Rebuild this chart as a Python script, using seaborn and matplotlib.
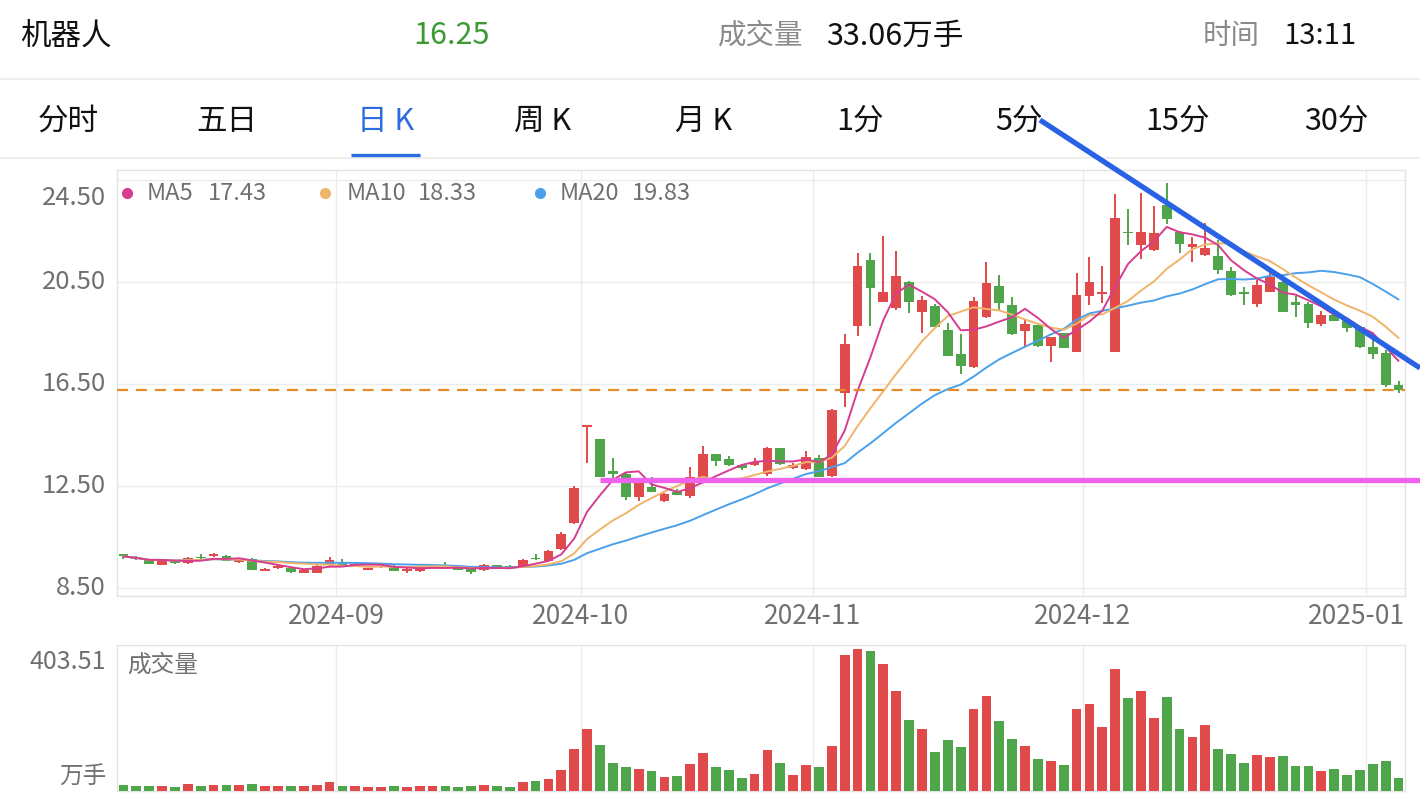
import numpy as np
import pandas as pd
import matplotlib
matplotlib.use("Agg")
import matplotlib.pyplot as plt
import seaborn as sns
from matplotlib.lines import Line2D

# ---------------- data ----------------
opens = [9.82, 9.72, 9.59, 9.41, 9.56, 9.47, 9.72, 9.75, 9.74, 9.51,
         9.64, 9.18, 9.27, 9.30, 9.10, 9.10, 9.40, 9.53, 9.39, 9.22,
         9.32, 9.36, 9.15, 9.18, 9.30, 9.39, 9.28, 9.26, 9.21, 9.39,
         9.35, 9.37, 9.69, 9.57, 10.02, 11.06, 14.83, 14.34, 13.10, 12.96,
         12.08, 12.45, 11.91, 12.28, 12.10, 12.83, 13.74, 13.56, 13.32, 13.32,
         12.98, 13.98, 13.22, 13.17, 13.61, 12.89, 16.14, 18.77, 21.36, 19.73,
         19.47, 20.51, 19.34, 19.57, 18.62, 17.68, 17.15, 19.14, 20.34, 19.60,
         18.58, 18.81, 17.99, 18.49, 17.77, 19.95, 20.03, 17.77, 22.48, 21.95,
         21.75, 23.52, 22.47, 21.86, 21.56, 21.52, 20.94, 20.12, 19.64, 20.12,
         20.51, 19.73, 19.64, 18.85, 19.21, 18.98, 18.75, 17.96, 17.73, 16.46]
highs = [9.84, 9.74, 9.64, 9.60, 9.58, 9.70, 9.82, 9.86, 9.78, 9.63,
         9.66, 9.29, 9.42, 9.32, 9.24, 9.39, 9.70, 9.62, 9.50, 9.30,
         9.40, 9.39, 9.27, 9.33, 9.36, 9.52, 9.30, 9.28, 9.43, 9.42,
         9.40, 9.62, 9.83, 9.98, 10.71, 12.50, 14.85, 14.36, 13.59, 13.06,
         12.70, 12.84, 12.21, 12.40, 13.23, 14.08, 13.76, 13.68, 13.34, 13.61,
         14.03, 14.00, 13.42, 13.87, 13.72, 15.50, 18.45, 21.65, 21.65, 22.30,
         21.73, 20.55, 19.95, 19.64, 18.90, 18.45, 19.92, 21.30, 20.77, 19.92,
         19.00, 18.83, 18.35, 18.51, 20.86, 21.49, 21.13, 23.95, 23.35, 23.98,
         23.48, 24.37, 22.49, 22.28, 22.83, 22.15, 21.08, 20.32, 20.58, 20.86,
         20.66, 19.95, 19.72, 19.37, 19.25, 19.00, 18.77, 18.29, 17.83, 16.63]
lows = [9.64, 9.60, 9.43, 9.39, 9.45, 9.45, 9.65, 9.73, 9.55, 9.49,
        9.20, 9.16, 9.24, 9.10, 9.08, 9.08, 9.38, 9.36, 9.36, 9.20,
        9.30, 9.15, 9.10, 9.14, 9.28, 9.33, 9.20, 9.06, 9.15, 9.30,
        9.29, 9.35, 9.60, 9.55, 10.00, 11.00, 13.41, 12.84, 12.80, 11.95,
        11.91, 12.26, 11.88, 12.13, 12.02, 12.74, 13.30, 13.30, 13.13, 13.28,
        12.90, 13.33, 13.15, 13.12, 12.84, 12.85, 15.59, 18.38, 18.77, 19.70,
        19.40, 19.30, 18.51, 18.73, 17.58, 16.89, 17.13, 19.08, 19.40, 18.44,
        17.99, 17.97, 17.38, 17.90, 17.75, 19.60, 19.69, 17.75, 21.95, 21.39,
        21.72, 22.77, 21.63, 21.30, 21.52, 20.81, 19.97, 19.60, 19.53, 20.10,
        19.32, 19.14, 18.68, 18.77, 18.96, 18.55, 17.92, 17.47, 16.39, 16.16]
closes = [9.74, 9.62, 9.45, 9.59, 9.48, 9.66, 9.67, 9.82, 9.57, 9.61,
          9.22, 9.26, 9.37, 9.12, 9.22, 9.37, 9.59, 9.40, 9.45, 9.27,
          9.36, 9.17, 9.26, 9.31, 9.34, 9.35, 9.21, 9.13, 9.41, 9.32,
          9.31, 9.60, 9.62, 9.96, 10.61, 12.41, 14.85, 12.86, 12.97, 12.08,
          12.62, 12.28, 12.19, 12.15, 12.86, 13.74, 13.49, 13.32, 13.22, 13.45,
          13.98, 13.35, 13.32, 13.64, 12.86, 15.48, 18.07, 21.13, 20.25, 20.12,
          20.75, 19.70, 19.79, 18.75, 17.60, 17.21, 19.77, 20.47, 19.69, 18.46,
          18.85, 17.99, 18.33, 17.92, 19.99, 20.51, 20.12, 23.02, 22.41, 22.48,
          22.43, 22.96, 21.98, 21.99, 21.82, 20.97, 19.99, 20.03, 20.38, 20.68,
          19.34, 19.60, 18.90, 19.21, 18.98, 18.68, 17.94, 17.68, 16.46, 16.25]
volumes = [18, 15, 15, 13, 12, 20, 15, 18, 18, 18,
           21, 14, 15, 14, 13, 18, 25, 15, 14, 12,
           11, 13, 12, 15, 13, 13, 11, 13, 17, 13,
           12, 26, 29, 34, 60, 120, 176, 132, 81, 67,
           63, 58, 40, 43, 76, 107, 68, 59, 38, 49,
           116, 79, 46, 74, 69, 127, 387, 403.51, 400, 362,
           285, 202, 178, 111, 146, 125, 233, 270, 200, 147,
           127, 92, 86, 74, 235, 247, 182, 348, 266, 286,
           207, 269, 178, 154, 187, 121, 105, 80, 102, 97,
           99, 71, 70, 56, 63, 47, 60, 77, 85, 37]
month_labels = ["2024-09", "2024-10", "2024-11", "2024-12", "2025-01"]
month_start_index = [17, 36, 54, 75, 97]
price_ticks = [8.50, 12.50, 16.50, 20.50, 24.50]
last_price = 16.25
ma_names = ["MA5", "MA10", "MA20"]
ma_last_values = ["17.43", "18.33", "19.83"]
header_name = "机器人"
header_price = "16.25"
header_vol = "33.06万手"
header_time = "13:11"
tabs = ["分时", "五日", "日 K", "周 K", "月 K", "1分", "5分", "15分", "30分"]
vol_max_label = "403.51"

# ---------------- style ----------------
sns.set_theme(style="white")
plt.rcParams["font.family"] = ["Noto Sans CJK SC", "DejaVu Sans"]

RED = "#e14a4a"
GREEN = "#4fa64a"
C_MA5 = "#d63c8f"
C_MA10 = "#f0b46a"
C_MA20 = "#4aa0ea"
GRID = "#ececec"
GRAY = "#707070"
BLUE_TAB = "#2b6de0"

W, H = 1420, 806
fig = plt.figure(figsize=(W / 100, H / 100), dpi=100)
fig.patch.set_facecolor("white")


def fx(x):
    return x / W


def fy(y):
    return 1 - y / H


L, R = 117, 1405
ax = fig.add_axes([fx(L), fy(596), (R - L) / W, (596 - 170) / H])
axv = fig.add_axes([fx(L), fy(791), (R - L) / W, (791 - 645) / H])

o = np.array(opens)
h = np.array(highs)
lo = np.array(lows)
c = np.array(closes)
n = len(c)
idx = np.arange(n)
up = c >= o
cols = np.where(up, RED, GREEN)

# grid lines
for a in (ax, axv):
    for m in month_start_index:
        a.axvline(m - 0.5, color=GRID, lw=1, zorder=0)
for p in price_ticks:
    ax.axhline(p, color=GRID, lw=1, zorder=0)

# candles
ax.vlines(idx, lo, h, colors=cols, lw=1.4, zorder=2)
body_bottom = np.minimum(o, c)
body_h = np.maximum(np.abs(c - o), 0.06)
ax.bar(idx, body_h, bottom=body_bottom, width=0.76, color=cols, linewidth=0, zorder=3)

# moving averages
cs = pd.Series(c)
ma5 = cs.rolling(5, min_periods=1).mean()
ma10 = cs.rolling(10, min_periods=1).mean()
ma20 = cs.rolling(20, min_periods=1).mean()
sns.lineplot(x=idx, y=ma20.values, color=C_MA20, lw=1.4, ax=ax, zorder=4)
sns.lineplot(x=idx, y=ma10.values, color=C_MA10, lw=1.4, ax=ax, zorder=4)
sns.lineplot(x=idx, y=ma5.values, color=C_MA5, lw=1.4, ax=ax, zorder=5)

# last price dashed line
ax.axhline(last_price, color="#e58c2a", lw=1.6, dashes=(5, 3.5), zorder=6)

ax.set_xlim(-0.5, n - 0.5)
ax.set_ylim(8.5 - 8 / 25.5, 24.5 + 10 / 25.5)
ax.set_xticks([])
ax.set_yticks([])
ax.set_xlabel("")
ax.set_ylabel("")

# volume
dfv = pd.DataFrame({"i": idx, "v": volumes, "d": np.where(up, "up", "down")})
sns.barplot(data=dfv, x="i", y="v", hue="d", palette={"up": RED, "down": GREEN},
            dodge=False, native_scale=True, width=0.76, legend=False, ax=axv,
            linewidth=0, saturation=1, errorbar=None, zorder=3)
axv.set_xlim(-0.5, n - 0.5)
axv.set_ylim(0, 416)
axv.set_xticks([])
axv.set_yticks([])
axv.set_xlabel("")
axv.set_ylabel("")

for a in (ax, axv):
    for s in a.spines.values():
        s.set_color("#e4e4e4")
        s.set_linewidth(1)

# y tick labels
ytr = ax.get_yaxis_transform()
offx = -(L - 106) / (R - L)
for p in price_ticks:
    va = "top" if p == max(price_ticks) else "center"
    yy = p - 0.2 if p == max(price_ticks) else p
    ax.text(offx, yy, f"{p:.2f}", transform=ytr, ha="right", va=va,
            fontsize=18.5, color=GRAY)

# x tick labels
xtr = ax.get_xaxis_transform()
for lab, m in zip(month_labels, month_start_index):
    if m == month_start_index[-1]:
        ax.text(n - 0.5, -21 / 426, lab, transform=xtr, ha="right", va="center",
                fontsize=19, color=GRAY)
    else:
        ax.text(m - 0.5, -21 / 426, lab, transform=xtr, ha="center", va="center",
                fontsize=19, color=GRAY)

# MA legend
for (xd, xt, xv), col, nm, val in zip([(127, 147, 208), (325, 347, 418), (540, 560, 632)],
                                      [C_MA5, C_MA10, C_MA20], ma_names, ma_last_values):
    fig.add_artist(Line2D([fx(xd)], [fy(193)], marker="o", ms=7, color=col,
                          lw=0, transform=fig.transFigure))
    fig.text(fx(xt), fy(193), nm, ha="left", va="center", fontsize=17, color=GRAY)
    fig.text(fx(xv), fy(193), val, ha="left", va="center", fontsize=17, color=GRAY)

# volume labels
fig.text(fx(106), fy(662), vol_max_label, ha="right", va="center", fontsize=18, color=GRAY)
fig.text(fx(106), fy(777), "万手", ha="right", va="center", fontsize=17, color=GRAY)
fig.text(fx(127), fy(665), "成交量", ha="left", va="center", fontsize=17, color=GRAY)

# header
fig.text(fx(20), fy(36), header_name, ha="left", va="center", fontsize=22, color="#111111")
fig.text(fx(452), fy(36), header_price, ha="center", va="center", fontsize=22, color="#3c9a32")
fig.text(fx(718), fy(36), "成交量", ha="left", va="center", fontsize=20.5, color="#8a8a8a")
fig.text(fx(826), fy(36), header_vol, ha="left", va="center", fontsize=22, color="#111111")
fig.text(fx(1203), fy(36), "时间", ha="left", va="center", fontsize=20.5, color="#8a8a8a")
fig.text(fx(1283), fy(36), header_time, ha="left", va="center", fontsize=21, color="#111111")

for yy in (79, 158):
    fig.add_artist(Line2D([0, 1], [fy(yy), fy(yy)], color="#eeeeee", lw=1.5,
                          transform=fig.transFigure))

tab_x = [68, 227, 386, 543, 704, 860, 1019, 1177, 1336]
for t, xx in zip(tabs, tab_x):
    colr = BLUE_TAB if t == "日 K" else "#111111"
    fig.text(fx(xx), fy(121), t, ha="center", va="center", fontsize=22, color=colr)
fig.add_artist(Line2D([fx(351), fx(420)], [fy(155), fy(155)], color=BLUE_TAB, lw=2.4,
                      transform=fig.transFigure, solid_capstyle="butt"))

# drawn annotations
fig.add_artist(Line2D([fx(600), fx(1420)], [fy(480), fy(480)], color="#ee62ee", lw=3.8,
                      transform=fig.transFigure, solid_capstyle="butt", zorder=10))
fig.add_artist(Line2D([fx(1040), fx(1420)], [fy(120), fy(368)], color="#2a62e6", lw=3.8,
                      transform=fig.transFigure, solid_capstyle="butt", zorder=10))

fig.savefig("out.png", dpi=100, facecolor="white")
